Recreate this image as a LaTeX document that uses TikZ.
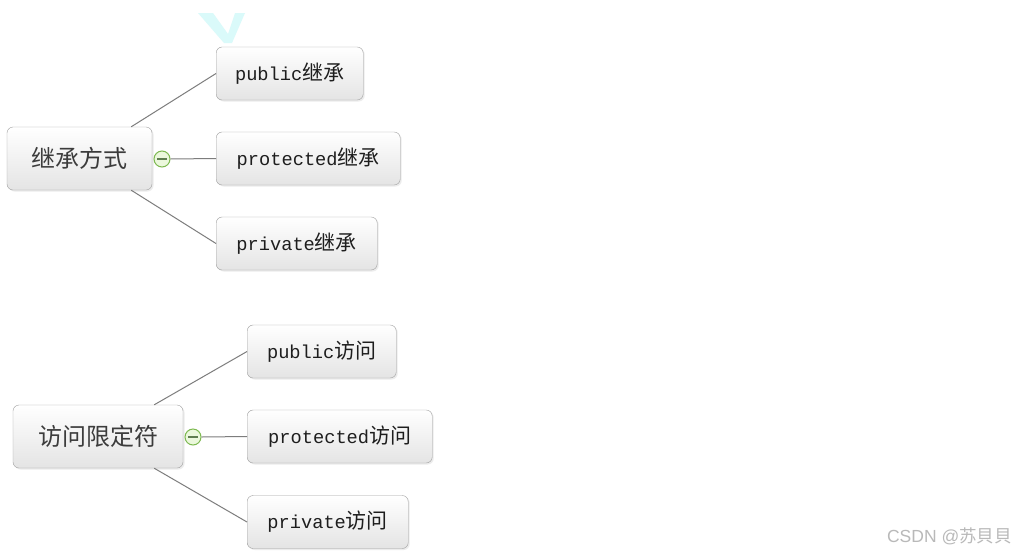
\documentclass[tikz,border=0pt]{standalone}
\usepackage{fontspec}
\setmonofont{Liberation Mono}
\newfontfamily\cjk{Noto Sans CJK SC}
\newfontfamily\wmfont{Liberation Sans}
\usetikzlibrary{shadows}
\definecolor{boxline}{RGB}{160,160,160}
\definecolor{boxbot}{RGB}{228,228,228}
\definecolor{roottext}{RGB}{60,60,60}
\definecolor{kidtext}{RGB}{30,30,30}
\definecolor{linkgray}{RGB}{125,125,125}
\definecolor{togline}{RGB}{125,185,80}
\definecolor{togfill}{RGB}{235,248,220}
\definecolor{togbar}{RGB}{95,125,80}
\definecolor{wmcyan}{RGB}{218,250,250}
\definecolor{wmgray}{RGB}{185,185,185}
\newcommand{\zh}[1]{{\cjk\fontsize{21}{21}\selectfont #1}}

\begin{document}
\begin{tikzpicture}[x=1pt, y=-1pt,
	box/.style={draw=boxline, rounded corners=6pt, top color=white, bottom color=boxbot,
		drop shadow={opacity=0.15, shadow xshift=1.5pt, shadow yshift=-1.5pt},
		minimum height=53pt, inner sep=0pt},
	root/.style={box, minimum height=63pt, text=roottext, font=\cjk\fontsize{24}{24}\selectfont},
	kid/.style={box, anchor=west, text=kidtext, font=\ttfamily\fontsize{18.7}{20}\selectfont},
	toggle/.style={circle, draw=togline, fill=togfill, line width=1pt, minimum size=16pt, inner sep=0pt,
		path picture={\draw[togbar, line width=1.5pt] ([xshift=3pt]path picture bounding box.west) -- ([xshift=-3pt]path picture bounding box.east);}},
	link/.style={draw=linkgray, line width=1pt}]
	%background
	\fill[white] (0,0) rectangle (1017,555);
	\useasboundingbox (0,0) rectangle (1017,555);
	\fill[wmcyan] (198,13) -- (213,13) -- (228,34) -- (235,13) -- (245,13) -- (232,43) -- (224,43) -- cycle;
	
	%inheritance
	\node[root, minimum width=145pt] (inherit) at (79.5,158.5) {继承方式};
	\node[kid, minimum width=147pt] (inheritpub) at (216,73.5) {public\zh{继承}};
	\node[kid, minimum width=184pt] (inheritpro) at (216,158.5) {protected\zh{继承}};
	\node[kid, minimum width=161pt] (inheritpri) at (216,243.5) {private\zh{继承}};
	\node[toggle] (inherittog) at (162,159) {};
	
	%access
	\node[root, minimum width=170pt] (access) at (98,436.5) {访问限定符};
	\node[kid, minimum width=149pt] (accesspub) at (247,351.5) {public\zh{访问}};
	\node[kid, minimum width=185pt] (accesspro) at (247,436.5) {protected\zh{访问}};
	\node[kid, minimum width=161pt] (accesspri) at (247,522) {private\zh{访问}};
	\node[toggle] (accesstog) at (193,437) {};
	
	%links
	\draw[link] ([xshift=-21pt]inherit.north east) -- (inheritpub.west);
	\draw[link] (inherittog.east) -- (inheritpro.west);
	\draw[link] ([xshift=-21pt]inherit.south east) -- (inheritpri.west);
	\draw[link] ([xshift=-29pt]access.north east) -- (accesspub.west);
	\draw[link] (accesstog.east) -- (accesspro.west);
	\draw[link] ([xshift=-29pt]access.south east) -- (accesspri.west);
	
	%watermark
	\node[anchor=east, inner sep=0pt, text=wmgray, font=\fontsize{17.5}{18}\selectfont] (mark) at (1012,536) {{\wmfont CSDN @}{\cjk 苏貝貝}};
\end{tikzpicture}
\end{document}
